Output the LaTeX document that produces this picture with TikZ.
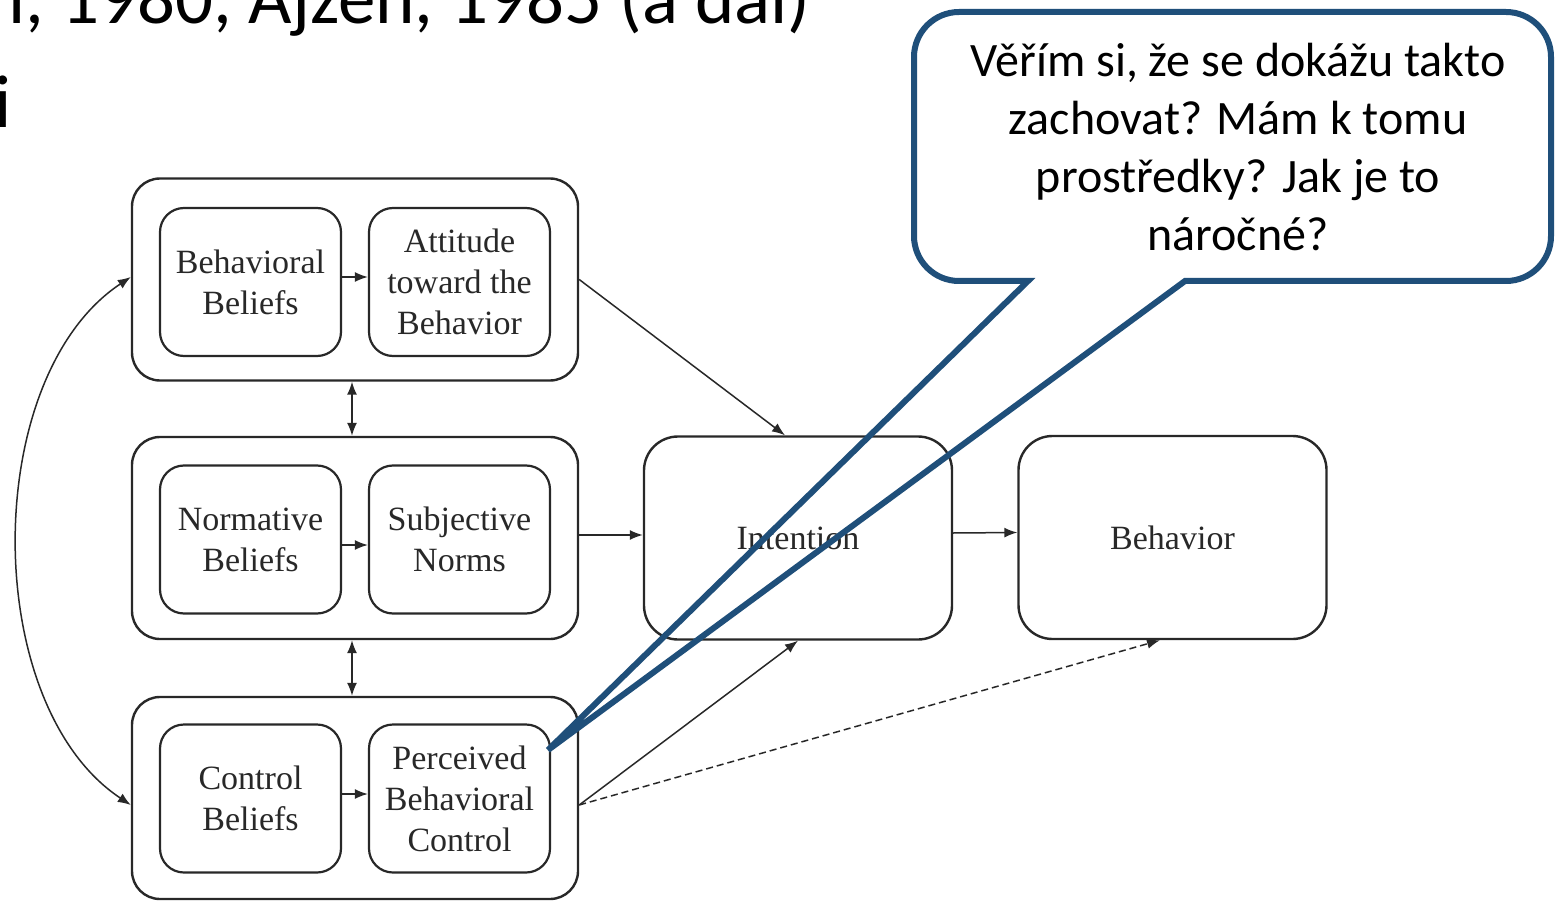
\documentclass[tikz,border=0pt]{standalone}
\usepackage{fontspec}
\setmainfont{Liberation Serif}
\newfontfamily\calibri{Carlito}
\usetikzlibrary{arrows.meta}
\definecolor{ink}{RGB}{40,40,40}
\definecolor{callblue}{RGB}{31,79,122}

\begin{document}
\begin{tikzpicture}[x=1pt,y=-1pt,
  grp/.style={draw=ink, line width=2.4pt, rounded corners=28pt,
    minimum width=446pt, minimum height=202pt, inner sep=0pt},
  inbx/.style={draw=ink, line width=2.2pt, rounded corners=24pt,
    minimum width=181pt, minimum height=148pt, inner sep=0pt,
    align=center, text=ink, font=\fontsize{34}{41}\selectfont},
  bigbx/.style={draw=ink, line width=2.4pt, rounded corners=34pt,
    minimum width=308pt, minimum height=203pt, inner sep=0pt,
    text=ink, font=\fontsize{34}{41}\selectfont},
  tip/.tip={Latex[length=13pt,width=10pt]},
  conn/.style={draw=ink, line width=1.5pt, -tip},
  twoway/.style={draw=ink, line width=1.5pt, tip-tip},
  weak/.style={conn, dash pattern=on 7pt off 4pt},
  slide/.style={font=\calibri\fontsize{75}{90}\selectfont, anchor=base west, inner sep=0pt},
]
\useasboundingbox (0,0) rectangle (1555,901);
\clip (0,0) rectangle (1555,901);
\fill[white] (0,0) rectangle (1555,901);

% slide heading, cut by the frame
\node[slide] (t1) at (8,24) {i, 1980, Ajzen, 1985 (a dal)};
\node[slide] (t2) at (-6,128) {i};

% belief groups
\node[grp] (g1) at (355,279.5) {};
\node[grp] (g2) at (355,538) {};
\node[grp] (g3) at (355,798) {};

\node[inbx] (bb)  at (250.5,282) {Behavioral\\Beliefs};
\node[inbx] (att) at (459.5,282) {Attitude\\toward the\\Behavior};
\node[inbx] (nb)  at (250.5,539.5) {Normative\\Beliefs};
\node[inbx] (sn)  at (459.5,539.5) {Subjective\\Norms};
\node[inbx] (cb)  at (250.5,798.5) {Control\\Beliefs};
\node[inbx] (pbc) at (459.5,798.5) {Perceived\\Behavioral\\Control};

\node[bigbx] (int) at (798,538) {Intention};
\node[bigbx] (beh) at (1172.5,537.5) {Behavior};

% inner links
\draw[conn] ([yshift=5pt]bb.east) -- ([yshift=5pt]att.west);
\draw[conn] ([yshift=-5.5pt]nb.east) -- ([yshift=-5.5pt]sn.west);
\draw[conn] ([yshift=4.5pt]cb.east) -- ([yshift=4.5pt]pbc.west);

% correlations between groups
\draw[twoway] ([xshift=-3pt]g1.south) -- ([xshift=-3pt]g2.north);
\draw[twoway] ([xshift=-3pt]g2.south) -- ([xshift=-3pt]g3.north);
\draw[twoway] ([yshift=2.5pt]g1.west) .. controls (-20,377) and (-20,705) .. ([yshift=-7pt]g3.west);

% paths to intention and behavior
\draw[conn] (g1.east) -- ([xshift=-13pt]int.north);
\draw[conn] ([yshift=3pt]g2.east) -- ([yshift=3pt]int.west);
\draw[conn] ([yshift=-7pt]g3.east) -- (int.south);
\draw[weak] ([yshift=-7pt]g3.east) -- ([xshift=-12.5pt]beh.south);
\draw[conn] ([yshift=5pt]int.east) -- ([yshift=5pt]beh.west);

% speech bubble
\node[font=\calibri\fontsize{48}{58}\selectfont, align=center] (q) at (1238,147)
  {Věřím si, že se dokážu takto\\zachovat? Mám k tomu\\prostředky? Jak je to\\náročné?};
\draw[callblue, line width=6pt, line join=miter]
  (1185,281) -- (1506,281) arc[start angle=90, end angle=0, radius=45]
  -- (1551,57) arc[start angle=0, end angle=-90, radius=45]
  -- (959,12) arc[start angle=-90, end angle=-180, radius=45]
  -- (914,236) arc[start angle=180, end angle=90, radius=45]
  -- (1028,281) -- (548,750) -- cycle;
\end{tikzpicture}
\end{document}
